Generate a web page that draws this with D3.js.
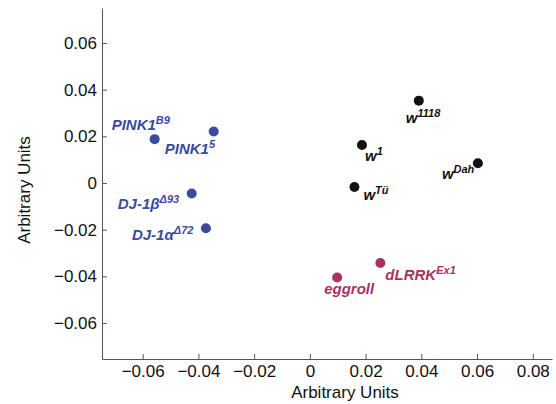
<!DOCTYPE html>
<html>
<head>
<meta http-equiv="Content-type" content="text/html; charset=utf-8">
<title>Arbitrary Units scatter</title>
<script src="https://cdn.jsdelivr.net/npm/d3@7"></script>
<style>
  body { margin: 0; background: #fff; }
  svg { display: block; font-family: "Liberation Sans", Arial, Helvetica, sans-serif; }
  .axis path, .axis line { stroke: #555; stroke-width: 1; }
  .axis text { font-size: 17px; fill: #111; font-family: "Liberation Sans", Arial, sans-serif; }
  .lbl { font-size: 15px; font-weight: bold; font-style: italic; }
</style>
</head>
<body>
<script type="text/javascript">

  // DATA
  var names   = ["PINK1", "PINK1", "DJ-1\u03b2", "DJ-1\u03b1", "w", "w", "w", "w", "eggroll", "dLRRK"];
  var sups    = ["B9", "5", "\u039493", "\u039472", "1118", "1", "Dah", "T\u00fc", "", "Ex1"];
  var xVals   = [-0.0557, -0.0345, -0.0424, -0.0373, 0.0391, 0.0187, 0.0603, 0.0160, 0.0098, 0.0253];
  var yVals   = [0.0188, 0.0221, -0.0045, -0.0194, 0.0353, 0.0163, 0.0085, -0.0017, -0.0405, -0.0343];
  var groups  = ["pink", "pink", "dj", "dj", "wt", "wt", "wt", "wt", "lrrk", "lrrk"];
  var xTicks  = [-0.06, -0.04, -0.02, 0, 0.02, 0.04, 0.06, 0.08];
  var yTicks  = [-0.06, -0.04, -0.02, 0, 0.02, 0.04, 0.06];

  // layout: label offset from its dot (px)
  var labelDx = [-43, -49, -74, -74, -13, 3, -36, 9, -13, 5];
  var labelDy = [-9, 23, 15, 12, 22, 16, 16, 13, 16, 17];

  var colors = { pink: "#3b4a9c", dj: "#3b4a9c", wt: "#111111", lrrk: "#a8335f" };

  var width = 556, height = 404;

  var svg = d3.select("body").append("svg")
      .attr("width", width)
      .attr("height", height);

  var x = d3.scaleLinear().domain([-0.0746, 0.0869]).range([102, 552]);
  var y = d3.scaleLinear().domain([-0.0754, 0.075]).range([359, 8]);

  function fmt(d) {
    if (d === 0) return "0";
    return (d < 0 ? "\u2212" : "") + Math.abs(d).toFixed(2);
  }

  svg.append("g")
      .attr("class", "axis")
      .attr("transform", "translate(0," + y.range()[0] + ")")
      .call(d3.axisBottom(x).tickValues(xTicks).tickFormat(fmt).tickSizeInner(-5).tickSizeOuter(0).tickPadding(6));

  svg.append("g")
      .attr("class", "axis")
      .attr("transform", "translate(" + x.range()[0] + ",0)")
      .call(d3.axisLeft(y).tickValues(yTicks).tickFormat(fmt).tickSizeInner(-5).tickSizeOuter(0).tickPadding(5));

  svg.selectAll(".axis text").attr("fill", "#111");

  // axis titles
  svg.append("text")
      .attr("x", 345)
      .attr("y", 398)
      .attr("text-anchor", "middle")
      .attr("font-size", 17)
      .attr("fill", "#111")
      .text("Arbitrary Units");

  svg.append("text")
      .attr("transform", "translate(30,190) rotate(-90)")
      .attr("text-anchor", "middle")
      .attr("font-size", 17)
      .attr("fill", "#111")
      .text("Arbitrary Units");

  var pts = names.map(function (n, i) {
    return { name: n, sup: sups[i], x: xVals[i], y: yVals[i], g: groups[i], dx: labelDx[i], dy: labelDy[i] };
  });

  svg.selectAll("circle.dot")
      .data(pts)
      .enter().append("circle")
      .attr("class", "dot")
      .attr("cx", function (d) { return x(d.x); })
      .attr("cy", function (d) { return y(d.y); })
      .attr("r", 5)
      .attr("fill", function (d) { return colors[d.g]; });

  var lbl = svg.selectAll("text.lbl")
      .data(pts)
      .enter().append("text")
      .attr("class", "lbl")
      .attr("x", function (d) { return x(d.x) + d.dx; })
      .attr("y", function (d) { return y(d.y) + d.dy; })
      .attr("fill", function (d) { return colors[d.g]; });

  lbl.append("tspan").text(function (d) { return d.name; });
  lbl.append("tspan")
      .attr("font-size", 11)
      .attr("dy", -6)
      .text(function (d) { return d.sup; });

</script>
</body>
</html>
